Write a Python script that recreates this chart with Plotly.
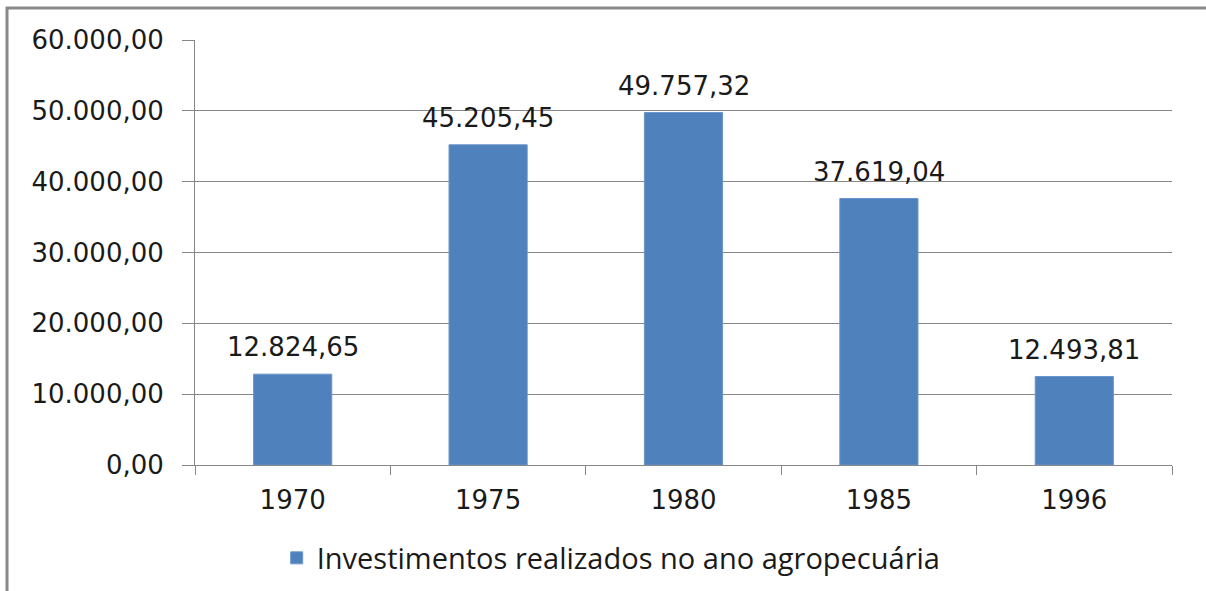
import plotly.graph_objects as go

# ---- data ----
categories = ["1970", "1975", "1980", "1985", "1996"]
values = [12824.65, 45205.45, 49757.32, 37619.04, 12493.81]
series_name = "Investimentos realizados no ano agropecuária"
y_ticks = [0, 10000, 20000, 30000, 40000, 50000, 60000]

def br(v):
    s = f"{v:,.2f}"
    return s.replace(",", "X").replace(".", ",").replace("X", ".")

W, H = 1206, 591
L, R, T, B = 195, 34, 40, 126
pw, ph = W - L - R, H - T - B

FONT = "DejaVu Sans"
GRID = "#878787"

fig = go.Figure()
fig.add_trace(go.Bar(
    x=categories, y=values, name=series_name,
    marker=dict(color="#4F81BD", line=dict(color="#6A95CA", width=1)),
    showlegend=True,
))

for i, (c, v) in enumerate(zip(categories, values)):
    fig.add_annotation(x=i, y=v, text=br(v), showarrow=False,
                       yanchor="middle", yshift=27,
                       font=dict(family=FONT, size=26, color="#1a1a1a"))

def px_x(x):
    return (x - L) / pw

def px_y(y):
    return (H - B - y) / ph

# outer frame (left and top edges)
fig.add_shape(type="line", xref="paper", yref="paper",
              x0=px_x(7), x1=px_x(7), y0=px_y(7), y1=px_y(H + 5),
              line=dict(color="#888888", width=3))
fig.add_shape(type="line", xref="paper", yref="paper",
              x0=px_x(6), x1=px_x(W + 5), y0=px_y(8), y1=px_y(8),
              line=dict(color="#888888", width=3))

fig.update_layout(
    width=W, height=H,
    margin=dict(l=L, r=R, t=T, b=B, pad=0, autoexpand=False),
    paper_bgcolor="white", plot_bgcolor="white",
    separators=",.",
    bargap=0.6,
    showlegend=True,
    legend=dict(orientation="h", x=0.426, xanchor="center",
                y=px_y(558), yanchor="middle",
                font=dict(family="Open Sans", size=29, color="#1a1a1a")),
    xaxis=dict(
        type="category", tickson="boundaries", range=[-0.5, 4.5],
        ticks="outside", ticklen=9, tickcolor=GRID, tickwidth=1,
        showline=True, linecolor=GRID, linewidth=1,
        showgrid=False, automargin=False, tickangle=0,
        tickfont=dict(family=FONT, size=26, color="#1a1a1a"),
        ticklabelstandoff=12,
    ),
    yaxis=dict(
        range=[0, 60000], tickvals=y_ticks, tickformat=",.2f",
        ticks="outside", ticklen=12, tickcolor=GRID, tickwidth=1,
        showline=True, linecolor=GRID, linewidth=1,
        showgrid=True, gridcolor=GRID, gridwidth=1,
        zeroline=False, automargin=False,
        tickfont=dict(family=FONT, size=26, color="#1a1a1a"),
        ticklabelstandoff=13,
    ),
)

fig.write_html("out.html",
               config={"displayModeBar": False},
               post_script="document.body.style.margin='0';document.body.style.padding='0';")
